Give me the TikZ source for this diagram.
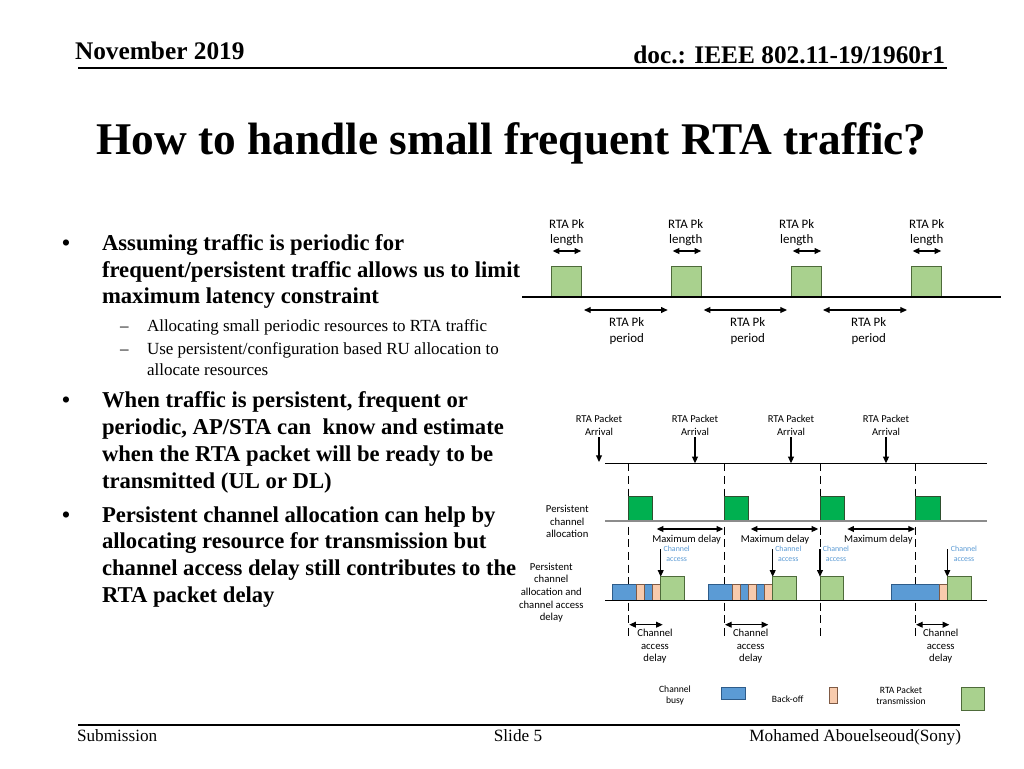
\documentclass[tikz,border=0pt]{standalone}
\usepackage{fontspec}
\setmainfont{Liberation Serif}
\newfontfamily\diagf{Carlito}
\usetikzlibrary{arrows.meta}
\definecolor{lgreen}{HTML}{A9D18E}
\definecolor{lgreenD}{HTML}{4E6B3A}
\definecolor{dgreen}{HTML}{00B050}
\definecolor{dgreenD}{HTML}{2F4F2F}
\definecolor{busyblue}{HTML}{5B9BD5}
\definecolor{busyblueD}{HTML}{2E5C8A}
\definecolor{boff}{HTML}{F8CBAD}
\definecolor{boffD}{HTML}{7F5A45}
\definecolor{catext}{HTML}{5B9BD5}
\begin{document}
\begin{tikzpicture}[x=0.75pt,y=-0.75pt,
  every node/.style={inner sep=0pt,outer sep=0pt},
  hdr/.style={font=\bfseries\fontsize{19}{22}\selectfont},
  ftr/.style={font=\fontsize{12.9}{15}\selectfont},
  btxt/.style={font=\bfseries\fontsize{17}{20}\selectfont, anchor=base west},
  stxt/.style={font=\fontsize{12.75}{15}\selectfont, anchor=base west},
  dlA/.style={font=\diagf\fontsize{9.7}{11.5}\selectfont, align=center},
  dlB/.style={font=\diagf\fontsize{9.7}{12}\selectfont, align=center},
  dlC/.style={font=\diagf\fontsize{7.9}{9.3}\selectfont, align=center},
  dlD/.style={font=\diagf\fontsize{8}{9.4}\selectfont, align=center},
  dlE/.style={font=\diagf\fontsize{5.9}{7.5}\selectfont, align=center, text=catext},
  dlF/.style={font=\diagf\fontsize{7.2}{8.4}\selectfont, align=center},
  tip/.tip={Triangle[length=5pt,width=4.4pt]},
  darr/.style={tip-tip, line width=0.85pt},
  sarr/.style={-tip, line width=0.85pt},
  tline/.style={line width=0.9pt, black},
  gline/.style={line width=0.9pt, black!45},
  dline/.style={line width=0.75pt, dash pattern=on 6pt off 3.5pt},
  lgbox/.style={fill=lgreen, draw=lgreenD, line width=0.7pt},
  dgbox/.style={fill=dgreen, draw=dgreenD, line width=0.7pt},
  bbox/.style={fill=busyblue, draw=busyblueD, line width=0.7pt},
  obox/.style={fill=boff, draw=boffD, line width=0.7pt}
]
\fill[white] (0,0) rectangle (1024,768);
\useasboundingbox (0,0) rectangle (1024,768);

% header
\node[hdr, anchor=base west] (hdate) at (75,59) {November 2019};
\node[hdr, anchor=base east] (hdoc) at (945,63) {doc.: IEEE 802.11-19/1960r1};
\coordinate (hl1) at (78,68); \coordinate (hl2) at (947,68);
\draw[line width=1.6pt] (hl1) -- (hl2);

% title
\node[font=\bfseries\fontsize{34}{40}\selectfont, anchor=base] (title) at (511.5,154) {How to handle small frequent RTA traffic?};

% bullets
\node[btxt] (b1m) at (62,250) {•};
\node[btxt] (b1a) at (102,250) {Assuming traffic is periodic for};
\node[btxt] (b1b) at (102,277) {frequent/persistent traffic allows us to limit};
\node[btxt] (b1c) at (102,303) {maximum latency constraint};
\node[stxt] (s1m) at (120,331) {–};
\node[stxt] (s1a) at (147,331) {Allocating small periodic resources to RTA traffic};
\node[stxt] (s2m) at (120,354) {–};
\node[stxt] (s2a) at (147,354) {Use persistent/configuration based RU allocation to};
\node[stxt] (s2b) at (147,375) {allocate resources};
\node[btxt] (b2m) at (62,407) {•};
\node[btxt] (b2a) at (102,407) {When traffic is persistent, frequent or};
\node[btxt] (b2b) at (102,434) {periodic, AP/STA can\ \ know and estimate};
\node[btxt] (b2c) at (102,461) {when the RTA packet will be ready to be};
\node[btxt] (b2d) at (102,488) {transmitted (UL or DL)};
\node[btxt] (b3m) at (62,522) {•};
\node[btxt] (b3a) at (102,522) {Persistent channel allocation can help by};
\node[btxt] (b3b) at (102,548) {allocating resource for transmission but};
\node[btxt] (b3c) at (102,575) {channel access delay still contributes to the};
\node[btxt] (b3d) at (102,602) {RTA packet delay};

% ===== diagram 1 =====
\foreach \i/\bx/\lx in {1/551.7/566.7, 2/671.7/685.7, 3/791.7/796.7, 4/911.7/926.7} {
  \draw[lgbox] (\bx,266.7) rectangle ++(30,30.3);
  \node[dlA] (len\i) at (\lx,232.5) {RTA Pk\\length};
  \coordinate (la\i) at (\bx+1,251);
  \coordinate (lb\i) at (\bx+29.5,251);
  \draw[darr] (la\i) -- (lb\i);
}
\coordinate (d1s) at (522,297); \coordinate (d1e) at (1001,297);
\draw[tline] (d1s) -- (d1e);
\foreach \i/\xa/\xb/\lx in {1/584/667.7/626.7, 2/703.7/787/747.7, 3/823/907/868.7} {
  \coordinate (pa\i) at (\xa,310);
  \coordinate (pb\i) at (\xb,310);
  \draw[darr] (pa\i) -- (pb\i);
  \node[dlB] (per\i) at (\lx,331) {RTA Pk\\period};
}

% ===== diagram 2 =====
\foreach \i/\x/\e in {1/599/462, 2/695/463.3, 3/791/463.3, 4/886/463.3} {
  \node[dlC] (arr\i) at (\x,425.5) {RTA Packet\\Arrival};
  \coordinate (aa\i) at (\x,437);
  \coordinate (ab\i) at (\x,\e);
  \draw[sarr] (aa\i) -- (ab\i);
}
\coordinate (t1s) at (605,463.3); \coordinate (t1e) at (987,463.3);
\draw[tline] (t1s) -- (t1e);
\foreach \i/\x in {1/628.3, 2/724, 3/820, 4/915.7} {
  \coordinate (dt\i) at (\x,463.3);
  \coordinate (db\i) at (\x,638);
  \draw[dline] (dt\i) -- (db\i);
  \draw[dgbox] (\x,496.7) rectangle ++(24.3,24.3);
}
\coordinate (t2s) at (605,521); \coordinate (t2e) at (987,521);
\draw[gline] (t2s) -- (t2e);
\foreach \i/\xa/\xb/\lx in {1/656.7/723.3/686.7, 2/750.7/818.3/775, 3/847.3/915/878.3} {
  \coordinate (ma\i) at (\xa,529);
  \coordinate (mb\i) at (\xb,529);
  \draw[darr] (ma\i) -- (mb\i);
  \node[dlC] (md\i) at (\lx,539.3) {Maximum delay};
}
\foreach \i/\lx/\x in {1/676.7/660.7, 2/788.3/772.7, 3/836/820, 4/964/947.3} {
  \node[dlE] (ca\i) at (\lx,553.3) {Channel\\access};
  \coordinate (cs\i) at (\x,549);
  \coordinate (ce\i) at (\x,576.7);
  \draw[sarr] (cs\i) -- (ce\i);
}
% row 3 boxes
\foreach \xa/\xb in {612.7/636.7, 644.7/652.7, 708.7/732.7, 740.7/748.7, 756.7/764.7, 891.3/939.3}
  \draw[bbox] (\xa,584.3) rectangle (\xb,600.7);
\foreach \xa/\xb in {636.7/644.7, 652.7/660.7, 732.7/740.7, 748.7/756.7, 764.7/772.7, 939.3/947.3}
  \draw[obox] (\xa,584.3) rectangle (\xb,600.7);
\foreach \xa/\xb in {660.7/684.3, 772.7/796, 820/843.3, 947.3/971.3}
  \draw[lgbox] (\xa,576.7) rectangle (\xb,600.7);
\coordinate (t3s) at (605,600.7); \coordinate (t3e) at (987,600.7);
\draw[tline] (t3s) -- (t3e);
\foreach \i/\xa/\xb/\lx in {1/629.3/662.7/655, 2/725/768.3/750.7, 3/916/949.3/940.7} {
  \coordinate (ka\i) at (\xa,624.7);
  \coordinate (kb\i) at (\xb,624.7);
  \draw[darr] (ka\i) -- (kb\i);
  \node[dlD] (cad\i) at (\lx,646.3) {Channel\\access\\delay};
}
% left labels
\node[dlD, font=\diagf\fontsize{8}{9.2}\selectfont] (pca) at (567.3,521.5) {Persistent\\channel\\allocation};
\node[dlD, font=\diagf\fontsize{8}{9.5}\selectfont] (pcad) at (551.3,592.7) {Persistent\\channel\\allocation and\\channel access\\delay};

% legend
\node[dlF] (lgbusy) at (675,695.5) {Channel\\busy};
\draw[bbox] (721.7,687.3) rectangle (745.7,699.5);
\node[dlF] (lgbo) at (787.7,699.3) {Back-off};
\draw[obox] (829.3,687.3) rectangle (837.3,703.3);
\node[dlF] (lgtx) at (901,695.3) {RTA Packet\\transmission};
\draw[lgbox] (961,687.3) rectangle (984.3,710.7);

% footer
\coordinate (fl1) at (78,725); \coordinate (fl2) at (960,725);
\draw[line width=1.6pt] (fl1) -- (fl2);
\node[ftr, anchor=base west] (fsub) at (77,741) {Submission};
\node[ftr, anchor=base] (fslide) at (518,741) {Slide 5};
\node[ftr, anchor=base east] (fauth) at (961,741) {Mohamed Abouelseoud(Sony)};
\end{tikzpicture}
\end{document}
